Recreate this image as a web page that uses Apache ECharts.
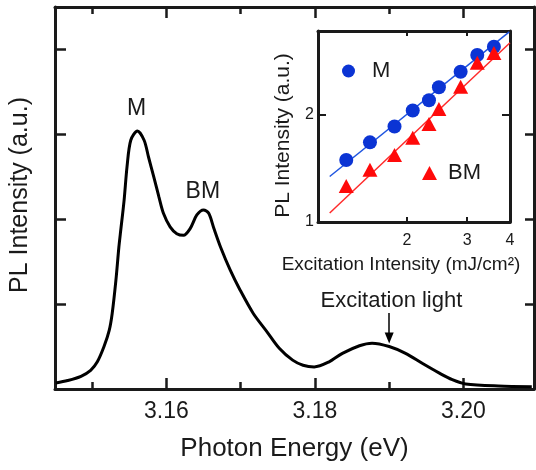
<!DOCTYPE html>
<html>
<head>
<meta charset="utf-8">
<script src="https://cdn.jsdelivr.net/npm/echarts@6/dist/echarts.min.js"></script>
<style>
html, body { margin: 0; padding: 0; background: #fff; }
#chart { width: 536px; height: 470px; }
</style>
</head>
<body>
<div id="chart"></div>
<script>
// main PL spectrum
var energy = [3.1451, 3.1467, 3.1485, 3.1498, 3.1507, 3.1516, 3.1523, 3.1527, 3.1532, 3.1536,
    3.1538, 3.1543, 3.1547, 3.1552, 3.1561, 3.1570, 3.1576, 3.1583, 3.1590, 3.1596,
    3.1605, 3.1614, 3.1623, 3.1632, 3.1641, 3.1650, 3.1657, 3.1664, 3.1673, 3.1686,
    3.1699, 3.1717, 3.1735, 3.1752, 3.1770, 3.1784, 3.1799, 3.1819, 3.1837, 3.1860,
    3.1877, 3.1900, 3.1922, 3.1945, 3.1967, 3.1985, 3.2003, 3.2047, 3.2092];
var intensity = [0.07, 0.10, 0.15, 0.22, 0.32, 0.50, 0.69, 0.89, 1.28, 1.67,
    1.83, 2.22, 2.62, 2.93, 3.04, 2.93, 2.73, 2.50, 2.26, 2.07,
    1.91, 1.83, 1.81, 1.89, 2.05, 2.11, 2.07, 1.89, 1.67, 1.40,
    1.17, 0.89, 0.68, 0.48, 0.34, 0.28, 0.26, 0.32, 0.42, 0.51,
    0.54, 0.50, 0.42, 0.30, 0.19, 0.11, 0.06, 0.035, 0.027];
var energyLabels = [3.16, 3.18, 3.20];
var energyMinor = [3.15, 3.17, 3.19];

// inset: intensity vs excitation (log-log)
var fluence = [1.33, 1.56, 1.84, 2.08, 2.32, 2.48, 2.87, 3.21, 3.59];
var mIntensity = [1.49, 1.67, 1.85, 2.05, 2.19, 2.38, 2.63, 2.93, 3.09];
var bmIntensity = [1.26, 1.40, 1.54, 1.72, 1.88, 2.07, 2.39, 2.79, 2.97];
var mFitX = [1.19, 3.98];
var mFitY = [1.34, 3.40];
var bmFitX = [1.19, 4.0];
var bmFitY = [1.06, 3.17];
var fluenceLabels = [2, 3, 4];
var fluenceTicks = [2, 3];
var plLabels = [1, 2];
var plTicks = [2];

function pairs(xs, ys) {
    return xs.map(function (x, i) { return [x, ys[i]]; });
}

var font = '"Liberation Sans", Arial, sans-serif';
var ink = '#1a1a1a';
var blue = '#0b34d4';
var red = '#ff0a0a';

var chart = echarts.init(document.getElementById('chart'));

function mainX(pos, ticks, len, withLine) {
    return {
        gridIndex: 0, type: 'value', position: pos, min: 3.145, max: 3.2095,
        axisLine: { show: withLine, onZero: false, lineStyle: { color: ink, width: 3 } },
        axisTick: { inside: true, length: len, customValues: ticks, lineStyle: { color: ink, width: 2.5 } },
        axisLabel: { show: false },
        splitLine: { show: false }
    };
}

var xBottom = mainX('bottom', energyLabels, 11, true);
xBottom.axisLabel = {
    show: true, customValues: energyLabels, margin: 11,
    fontSize: 23, fontFamily: font, color: ink,
    formatter: function (v) { return v.toFixed(2); }
};
xBottom.name = 'Photon Energy (eV)';
xBottom.nameLocation = 'middle';
xBottom.nameGap = 47;
xBottom.nameTextStyle = { fontSize: 26, fontFamily: font, color: ink };

var option = {
    animation: false,
    backgroundColor: '#fff',
    textStyle: { fontFamily: font },
    grid: [
        { left: 54, right: 2, top: 7, bottom: 81 },
        { left: 318, right: 26, top: 31, bottom: 248, show: true, backgroundColor: '#fff', borderWidth: 0 }
    ],
    legend: [
        {
            data: ['M'], left: 342, top: 60, padding: 0,
            icon: 'circle', itemWidth: 13, itemHeight: 13,
            selectedMode: false,
            textStyle: { fontSize: 22, fontFamily: font, color: ink, padding: [0, 0, 0, 12] }
        },
        {
            data: ['BM'], left: 422, top: 162, padding: 0,
            icon: 'triangle', itemWidth: 15, itemHeight: 14,
            selectedMode: false,
            textStyle: { fontSize: 22, fontFamily: font, color: ink, padding: [0, 0, 0, 6] }
        }
    ],
    xAxis: [
        xBottom,
        mainX('bottom', energyMinor, 7, false),
        mainX('top', energyLabels, 11, true),
        mainX('top', energyMinor, 7, false),
        {
            gridIndex: 1, type: 'log', logBase: 10, position: 'bottom', min: 1.1, max: 4,
            axisLine: { onZero: false, lineStyle: { color: ink, width: 3 } },
            axisTick: { inside: true, length: 5, customValues: fluenceTicks, lineStyle: { color: ink, width: 2 } },
            axisLabel: { customValues: fluenceLabels, margin: 11, fontSize: 16, fontFamily: font, color: ink },
            splitLine: { show: false },
            name: 'Excitation Intensity (mJ/cm²)',
            nameLocation: 'middle', nameGap: 33,
            nameTextStyle: { fontSize: 19, fontFamily: font, color: ink, padding: [0, 26, 0, 0] }
        },
        {
            gridIndex: 1, type: 'log', logBase: 10, position: 'top', min: 1.1, max: 4,
            axisLine: { onZero: false, lineStyle: { color: ink, width: 3 } },
            axisTick: { inside: true, length: 5, customValues: fluenceTicks, lineStyle: { color: ink, width: 2 } },
            axisLabel: { show: false },
            splitLine: { show: false }
        }
    ],
    yAxis: [
        {
            gridIndex: 0, type: 'value', position: 'left', min: 0, max: 4.5, interval: 1,
            axisLine: { show: true, onZero: false, lineStyle: { color: ink, width: 3 } },
            axisTick: { show: true, inside: true, length: 11, lineStyle: { color: ink, width: 2.5 } },
            axisLabel: { show: false },
            splitLine: { show: false },
            name: 'PL Intensity (a.u.)',
            nameLocation: 'middle', nameGap: 22,
            nameTextStyle: { fontSize: 25, fontFamily: font, color: ink, padding: [0, 0, 0, 6] }
        },
        {
            gridIndex: 0, type: 'value', position: 'right', min: 0, max: 4.5, interval: 1,
            axisLine: { show: true, onZero: false, lineStyle: { color: ink, width: 3 } },
            axisTick: { show: true, inside: true, length: 9, lineStyle: { color: ink, width: 2.5 } },
            axisLabel: { show: false },
            splitLine: { show: false }
        },
        {
            gridIndex: 1, type: 'log', logBase: 10, position: 'left', min: 1, max: 3.42,
            axisLine: { show: true, onZero: false, lineStyle: { color: ink, width: 3 } },
            axisTick: { show: true, inside: true, length: 8, customValues: plTicks, lineStyle: { color: ink, width: 2 } },
            axisLabel: { customValues: plLabels, margin: 4, fontSize: 16, fontFamily: font, color: ink },
            splitLine: { show: false },
            name: 'PL Intensity (a.u.)',
            nameLocation: 'middle', nameGap: 24,
            nameTextStyle: { fontSize: 21, fontFamily: font, color: ink, padding: [0, 18, 0, 0] }
        },
        {
            gridIndex: 1, type: 'log', logBase: 10, position: 'right', min: 1, max: 3.42,
            axisLine: { show: true, onZero: false, lineStyle: { color: ink, width: 3 } },
            axisTick: { show: true, inside: true, length: 8, customValues: plTicks, lineStyle: { color: ink, width: 2 } },
            axisLabel: { show: false },
            splitLine: { show: false }
        }
    ],
    series: [
        {
            name: 'spectrum', type: 'line', xAxisIndex: 0, yAxisIndex: 0,
            data: pairs(energy, intensity),
            showSymbol: false, smooth: 0.3,
            lineStyle: { color: '#000', width: 3 },
            markPoint: {
                symbolSize: 0,
                label: { show: true, position: 'inside', color: ink, fontFamily: font, fontSize: 23, formatter: '{b}' },
                data: [
                    { name: 'M', coord: [3.1560, 3.306] },
                    { name: 'BM', coord: [3.1649, 2.329] },
                    { name: 'Excitation light', coord: [3.1903, 1.035], label: { fontSize: 22 } }
                ]
            },
            markLine: {
                silent: true,
                symbol: ['none', 'triangle'],
                symbolSize: [9, 11],
                symbolRotate: 180,
                label: { show: false },
                lineStyle: { color: '#000', width: 1.5, type: 'solid' },
                data: [[{ coord: [3.1900, 0.894] }, { coord: [3.1900, 0.60] }]]
            }
        },
        {
            name: 'M fit', type: 'line', xAxisIndex: 4, yAxisIndex: 2,
            data: pairs(mFitX, mFitY), showSymbol: false,
            lineStyle: { color: '#1f55e0', width: 1.5 }
        },
        {
            name: 'BM fit', type: 'line', xAxisIndex: 4, yAxisIndex: 2,
            data: pairs(bmFitX, bmFitY), showSymbol: false,
            lineStyle: { color: '#ff2a2a', width: 1.5 }
        },
        {
            name: 'M', type: 'scatter', xAxisIndex: 4, yAxisIndex: 2,
            data: pairs(fluence, mIntensity),
            symbol: 'circle', symbolSize: 14,
            itemStyle: { color: blue, opacity: 1 }, z: 5
        },
        {
            name: 'BM', type: 'scatter', xAxisIndex: 4, yAxisIndex: 2,
            data: pairs(fluence, bmIntensity),
            symbol: 'triangle', symbolSize: [15, 14],
            itemStyle: { color: red, opacity: 1 }, z: 5
        }
    ]
};

chart.setOption(option);
</script>
</body>
</html>
